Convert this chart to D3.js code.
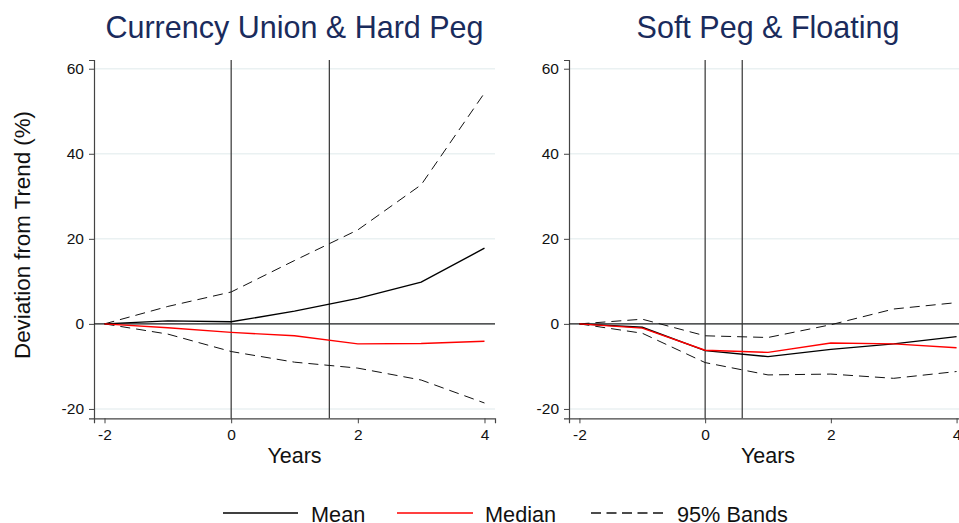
<!DOCTYPE html>
<html>
<head>
<meta charset="utf-8">
<script src="https://cdn.jsdelivr.net/npm/d3@7"></script>
<style>
  body { margin: 0; background: #fff; }
  svg { font-family: "Liberation Sans", Arial, sans-serif; }
</style>
</head>
<body>
<div id="chart"></div>
<script>
const years = [-2, -1, 0, 1, 2, 3, 4]
const yTicks = [-20, 0, 20, 40, 60]
const xTicks = [-2, 0, 2, 4]

const hardMean   = [0, 0.7, 0.5, 3.0, 6.0, 9.8, 17.8]
const hardMedian = [0, -0.9, -2.0, -2.8, -4.7, -4.6, -4.1]
const hardUpper  = [0, 4.1, 7.5, 14.9, 22.1, 32.7, 54.3]
const hardLower  = [0, -2.4, -6.5, -9.0, -10.4, -13.2, -18.6]
const hardVLines = [0, 1.55]

const softMean   = [0, -0.8, -6.3, -7.7, -6.0, -4.7, -3.0]
const softMedian = [0, -1.0, -6.2, -6.7, -4.5, -4.7, -5.6]
const softUpper  = [0, 1.1, -2.8, -3.2, -0.2, 3.5, 5.0]
const softLower  = [0, -2.2, -9.1, -12.0, -11.8, -12.8, -11.2]
const softVLines = [0, 0.59]

const panels = [
  { title: "Currency Union & Hard Peg", left: 94, right: 495, cx: 294.5, mean: hardMean, median: hardMedian, upper: hardUpper, lower: hardLower, vlines: hardVLines, ylabel: true },
  { title: "Soft Peg & Floating", left: 569, right: 967, cx: 768, mean: softMean, median: softMedian, upper: softUpper, lower: softLower, vlines: softVLines, ylabel: false }
]

const W = 959, H = 523
const plotTop = 60, plotBottom = 418.3

const svg = d3.select("#chart").append("svg")
  .attr("width", W).attr("height", H)

const y = d3.scaleLinear().domain([-22.2, 62.05]).range([plotBottom, plotTop])

panels.forEach(p => {
  const x = d3.scaleLinear().domain([-2.166, 4.166]).range([p.left, p.right])
  const g = svg.append("g")

  // grid
  g.selectAll(".grid").data(yTicks).enter().append("line")
    .attr("x1", p.left).attr("x2", p.right)
    .attr("y1", d => y(d)).attr("y2", d => y(d))
    .attr("stroke", "#eaf1f2").attr("stroke-width", 1.5)

  // axes
  const yAxis = d3.axisLeft(y).tickValues(yTicks).tickSize(5).tickPadding(5)
  const xAxis = d3.axisBottom(x).tickValues(xTicks).tickSize(5).tickPadding(6).tickFormat(d3.format("d"))

  const ya = g.append("g").attr("transform", "translate(" + p.left + ",0)").call(yAxis)
  const xa = g.append("g").attr("transform", "translate(0," + plotBottom + ")").call(xAxis)
  ;[ya, xa].forEach(a => {
    a.select(".domain").attr("stroke", "#444").attr("stroke-width", 1.2)
    a.selectAll(".tick line").attr("stroke", "#444")
    a.selectAll(".tick text").attr("fill", "#111").style("font-size", "15.5px")
  })
  xa.selectAll(".tick text").text(d => d < 0 ? "-" + Math.abs(d) : d)
  ya.selectAll(".tick text").text(d => d < 0 ? "-" + Math.abs(d) : d)

  // zero line
  g.append("line")
    .attr("x1", p.left).attr("x2", p.right)
    .attr("y1", y(0)).attr("y2", y(0))
    .attr("stroke", "#222").attr("stroke-width", 1.2)

  // vertical lines
  g.selectAll(".vl").data(p.vlines).enter().append("line")
    .attr("x1", d => x(d)).attr("x2", d => x(d))
    .attr("y1", plotTop).attr("y2", plotBottom)
    .attr("stroke", "#333").attr("stroke-width", 1.2)

  const line = d3.line().x((d, i) => x(years[i])).y(d => y(d))

  g.append("path").datum(p.upper).attr("d", line)
    .attr("fill", "none").attr("stroke", "#111").attr("stroke-width", 1).attr("stroke-dasharray", "10,6")
  g.append("path").datum(p.lower).attr("d", line)
    .attr("fill", "none").attr("stroke", "#111").attr("stroke-width", 1).attr("stroke-dasharray", "10,6")
  g.append("path").datum(p.mean).attr("d", line)
    .attr("fill", "none").attr("stroke", "#000").attr("stroke-width", 1.4)
  g.append("path").datum(p.median).attr("d", line)
    .attr("fill", "none").attr("stroke", "#f00").attr("stroke-width", 1.4)

  // title
  svg.append("text")
    .attr("x", p.cx).attr("y", 38)
    .attr("text-anchor", "middle")
    .attr("fill", "#1a2b5c").style("font-size", "30.5px")
    .text(p.title)

  svg.append("text")
    .attr("x", p.cx).attr("y", 463)
    .attr("text-anchor", "middle")
    .attr("fill", "#111").style("font-size", "21.5px")
    .text("Years")

  if (p.ylabel) {
    svg.append("text")
      .attr("transform", "translate(30,235) rotate(-90)")
      .attr("text-anchor", "middle")
      .attr("fill", "#111").style("font-size", "22.3px")
      .text("Deviation from Trend (%)")
  }
})

// legend
const legendItems = [
  { label: "Mean", color: "#000", dash: null, x1: 223, x2: 298, tx: 311 },
  { label: "Median", color: "#f00", dash: null, x1: 397, x2: 473, tx: 485 },
  { label: "95% Bands", color: "#111", dash: "10,5.5", x1: 591, x2: 666, tx: 677 }
]
const ly = 513
legendItems.forEach(it => {
  svg.append("line")
    .attr("x1", it.x1).attr("x2", it.x2).attr("y1", ly).attr("y2", ly)
    .attr("stroke", it.color).attr("stroke-width", 1.4)
    .attr("stroke-dasharray", it.dash)
  svg.append("text")
    .attr("x", it.tx).attr("y", ly + 8.5)
    .attr("fill", "#111").style("font-size", "21.7px")
    .text(it.label)
})
</script>
</body>
</html>
